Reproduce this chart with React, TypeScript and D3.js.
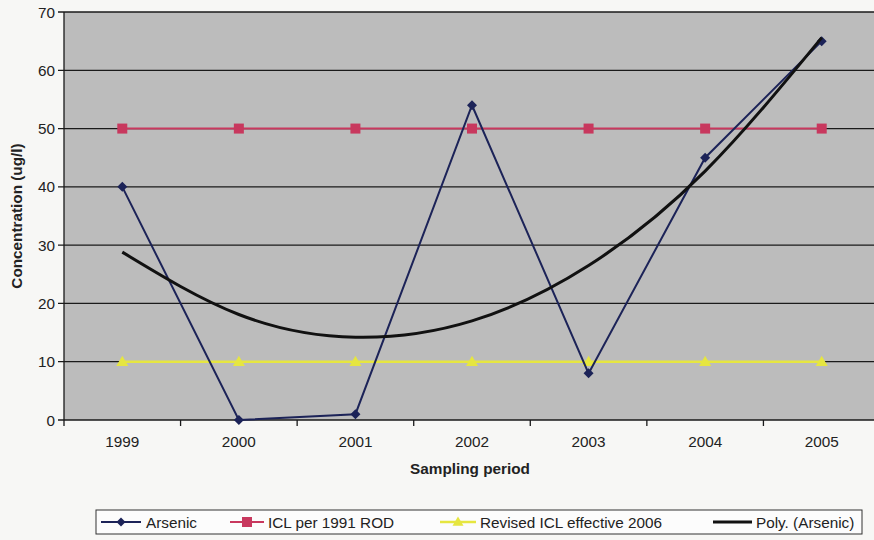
import React from "react";
import * as d3 from "d3";

const years = ["1999", "2000", "2001", "2002", "2003", "2004", "2005"];
const arsenic = [40, 0, 1, 54, 8, 45, 65];
const icl1991 = [50, 50, 50, 50, 50, 50, 50];
const revised2006 = [10, 10, 10, 10, 10, 10, 10];
const polyArsenic = [28.8, 18.1, 14.2, 17.0, 26.5, 42.7, 65.6];
const yTicks = [0, 10, 20, 30, 40, 50, 60, 70];

const W = 874, H = 540;
const left = 64, right = 880, top = 12, bottom = 420;

export default function App() {
  const x = d3.scaleBand().domain(years).range([left, right]);
  const xc = (i: number) => (x(years[i]) as number) + x.bandwidth() / 2;
  const y = d3.scaleLinear().domain([0, 70]).range([bottom, top]);
  const line = d3.line<number>().x((_, i) => xc(i)).y((d) => y(d));
  const curve = d3.line<number>().x((_, i) => xc(i)).y((d) => y(d)).curve(d3.curveNatural);

  const navy = "#1c2358";
  const red = "#c8385e";
  const yellow = "#e6e640";
  const font = "Arial, 'Liberation Sans', sans-serif";
  const fs = 15.3;

  const diamond = (cx: number, cy: number, s = 5) =>
    `M${cx},${cy - s}L${cx + s},${cy}L${cx},${cy + s}L${cx - s},${cy}Z`;
  const tri = (cx: number, cy: number, s = 6) =>
    `M${cx},${cy - s}L${cx + s},${cy + s * 0.7}L${cx - s},${cy + s * 0.7}Z`;

  const bounds = years.map((yr) => x(yr) as number).concat([right]);

  return (
    <svg width={W} height={H} style={{ position: "absolute", left: 0, top: 0, background: "#f7f7f5" }}
      fontFamily={font}>
      <rect x={0} y={0} width={W} height={H} fill="#f7f7f5" />
      <rect x={left} y={top} width={right - left} height={bottom - top} fill="#bcbcbc" />
      {yTicks.map((t) => (
        <g key={t}>
          <line x1={left - 6} x2={right} y1={y(t)} y2={y(t)} stroke="#1a1a1a" strokeWidth={1.3} />
          <text x={55} y={y(t) + 5.5} textAnchor="end" fontSize={fs} fill="#222">{t}</text>
        </g>
      ))}
      <line x1={left} x2={left} y1={top} y2={bottom} stroke="#1a1a1a" strokeWidth={1.3} />
      {bounds.map((b, i) => (
        <line key={i} x1={b} x2={b} y1={bottom} y2={bottom + 6} stroke="#1a1a1a" strokeWidth={1.3} />
      ))}
      {years.map((yr, i) => (
        <text key={yr} x={xc(i)} y={447} textAnchor="middle" fontSize={fs} fill="#222">{yr}</text>
      ))}
      <text x={470} y={474} textAnchor="middle" fontSize={fs} fontWeight="bold" fill="#222">Sampling period</text>
      <text transform={`translate(22,216) rotate(-90)`} textAnchor="middle" fontSize={fs} fontWeight="bold" fill="#222">
        Concentration (ug/l)
      </text>

      <path d={line(revised2006) as string} fill="none" stroke={yellow} strokeWidth={2.5} />
      {revised2006.map((v, i) => <path key={i} d={tri(xc(i), y(v))} fill={yellow} />)}

      <path d={line(icl1991) as string} fill="none" stroke={red} strokeWidth={2} />
      {icl1991.map((v, i) => <rect key={i} x={xc(i) - 5} y={y(v) - 5} width={10} height={10} fill={red} />)}

      <path d={line(arsenic) as string} fill="none" stroke={navy} strokeWidth={2} />
      {arsenic.map((v, i) => <path key={i} d={diamond(xc(i), y(v))} fill={navy} />)}

      <path d={curve(polyArsenic) as string} fill="none" stroke="#111" strokeWidth={3} />

      <rect x={96} y={510} width={766} height={24} fill="#fcfcfc" stroke="#333" strokeWidth={1} />
      <line x1={101} x2={141} y1={522} y2={522} stroke={navy} strokeWidth={2} />
      <path d={diamond(121, 522, 4.5)} fill={navy} />
      <text x={146} y={527.5} fontSize={fs} fill="#222">Arsenic</text>

      <line x1={230} x2={264} y1={522} y2={522} stroke={red} strokeWidth={2} />
      <rect x={242} y={517} width={10} height={10} fill={red} />
      <text x={268} y={527.5} fontSize={fs} fill="#222">ICL per 1991 ROD</text>

      <line x1={440} x2={476} y1={522} y2={522} stroke={yellow} strokeWidth={2.5} />
      <path d={tri(458, 522, 5.5)} fill={yellow} />
      <text x={480} y={527.5} fontSize={fs} fill="#222">Revised ICL effective 2006</text>

      <line x1={713} x2={752} y1={522} y2={522} stroke="#111" strokeWidth={3} />
      <text x={756} y={527.5} fontSize={fs} fill="#222">Poly. (Arsenic)</text>
    </svg>
  );
}
